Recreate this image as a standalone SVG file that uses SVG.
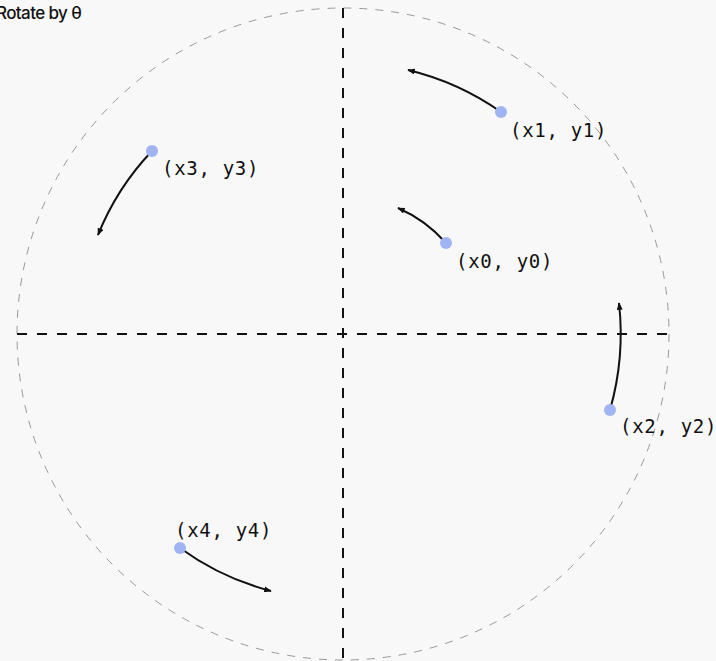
<svg xmlns="http://www.w3.org/2000/svg" width="716" height="661" viewBox="0 0 716 661">
<defs>
<style>
.axis{stroke:#111;stroke-width:2;stroke-dasharray:10 10;fill:none}
.rim{stroke:#999;stroke-width:1;stroke-dasharray:8 8;fill:none}
.arc{stroke:#111;stroke-width:2;fill:none;marker-end:url(#ah)}
.dot{fill:#a0b4f4}
.lbl{font-family:"DejaVu Sans Mono","Liberation Mono",monospace;font-size:19px;letter-spacing:0.7px;fill:#111}
.title{font-family:Inter,"Liberation Sans",sans-serif;font-size:17px;font-weight:500;fill:#111;letter-spacing:-0.6px}
</style>
<marker id="ah" viewBox="0 0 10 8" refX="9" refY="4" markerWidth="8" markerHeight="6" markerUnits="userSpaceOnUse" orient="auto">
<path d="M0 0 L10 4 L0 8 Z" fill="#111"/>
</marker>
</defs>
<rect width="716" height="661" fill="#f8f8f8"/>
<text class="title" x="-4" y="19">Rotate by θ</text>
<g id="frame">
<circle class="rim" cx="343" cy="334" r="326"/>
<line class="axis" x1="343" y1="8" x2="343" y2="661"/>
<line class="axis" x1="17" y1="334" x2="669" y2="334"/>
</g>
<g id="connectors">
<path class="arc" d="M446 243 A137 137 0 0 0 398 208"/>
<path class="arc" d="M501 112 A272.5 272.5 0 0 0 408 70"/>
<path class="arc" d="M610 410 A277.7 277.7 0 0 0 619 303"/>
<path class="arc" d="M152 151 A264.3 264.3 0 0 0 98 235"/>
<path class="arc" d="M180 548 A268 268 0 0 0 271 591"/>
</g>
<g id="p0"><circle class="dot" cx="446" cy="243" r="6"/><text class="lbl" x="456" y="268">(x0, y0)</text></g>
<g id="p1"><circle class="dot" cx="501" cy="112" r="6"/><text class="lbl" x="510" y="137">(x1, y1)</text></g>
<g id="p2"><circle class="dot" cx="610" cy="410" r="6"/><text class="lbl" x="620" y="433">(x2, y2)</text></g>
<g id="p3"><circle class="dot" cx="152" cy="151" r="6"/><text class="lbl" x="162" y="175">(x3, y3)</text></g>
<g id="p4"><circle class="dot" cx="180" cy="548" r="6"/><text class="lbl" x="175" y="537">(x4, y4)</text></g>
</svg>
